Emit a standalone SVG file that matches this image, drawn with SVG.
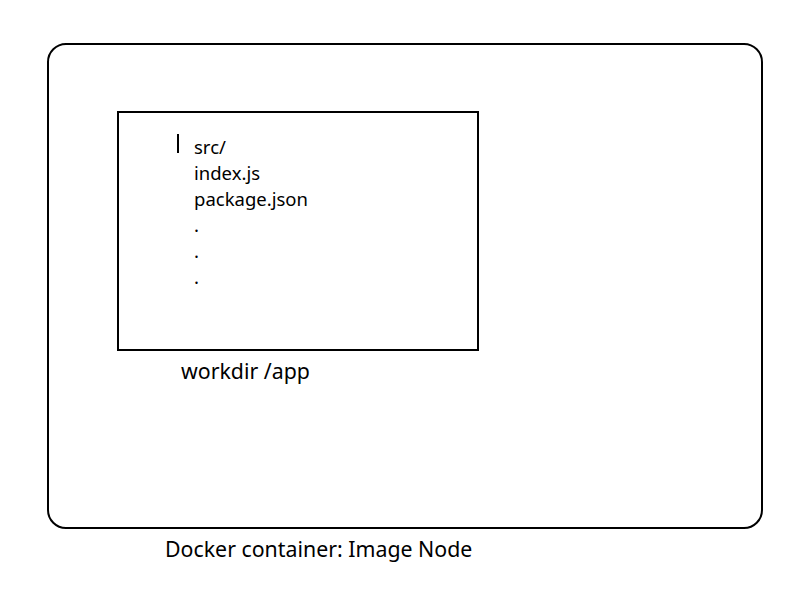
<svg xmlns="http://www.w3.org/2000/svg" width="800" height="600" viewBox="0 0 800 600">
<style>
.box{fill:none;stroke:#000;stroke-width:2}
.t{font-family:"Noto Sans","Open Sans",sans-serif;fill:#000}
.s{font-size:18.5px}
.l{font-size:21.33px}
</style>
<rect width="800" height="600" fill="#fff"/>
<g id="container">
<rect class="box" x="48" y="44" width="714" height="484" rx="18" ry="18"/>
<text class="t l" x="165" y="557">Docker container: Image Node</text>
</g>
<g id="workdir">
<rect class="box" x="118" y="112" width="360" height="238"/>
<line x1="178" y1="134" x2="178" y2="153" stroke="#000" stroke-width="2"/>
<text class="t s" x="194" y="154">src/</text>
<text class="t s" x="194" y="180">index.js</text>
<text class="t s" x="194" y="206">package.json</text>
<text class="t s" x="194" y="232">.</text>
<text class="t s" x="194" y="258">.</text>
<text class="t s" x="194" y="284">.</text>
<text class="t l" x="181" y="379">workdir /app</text>
</g>
<g id="connectors"/>
</svg>
